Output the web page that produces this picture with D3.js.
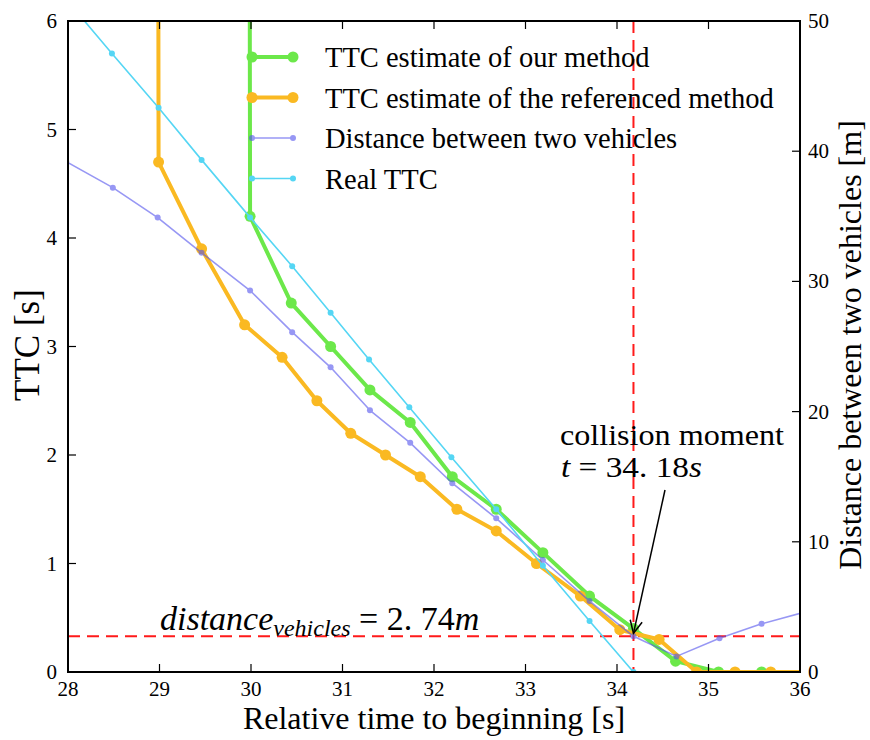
<!DOCTYPE html>
<html>
<head>
<meta charset="utf-8">
<script src="https://cdn.jsdelivr.net/npm/d3@7"></script>
<style>
  body { margin: 0; background: #fff; }
  text { font-family: "Liberation Serif", "DejaVu Serif", serif; fill: #000; }
</style>
</head>
<body>
<div id="chart"></div>
<script>
// ---- data ----
// TTC estimate of our method (left axis, s); first value is off-scale
const oursTime = [29.46, 29.99, 30.44, 30.87, 31.30, 31.74, 32.20, 32.68, 33.19, 33.70, 34.18, 34.64, 35.11, 35.58, 36.05];
const oursTTC  = [300, 4.2, 3.4, 3.0, 2.6, 2.3, 1.8, 1.5, 1.1, 0.7, 0.4, 0.1, 0, 0, 0];

// TTC estimate of the referenced method (left axis, s); first value is off-scale
const refTime = [28.49, 28.99, 29.46, 29.93, 30.34, 30.72, 31.09, 31.47, 31.85, 32.25, 32.68, 33.12, 33.60, 34.03, 34.46, 34.87, 35.29, 35.68, 36.05];
const refTTC  = [300, 4.7, 3.9, 3.2, 2.9, 2.5, 2.2, 2.0, 1.8, 1.5, 1.3, 1.0, 0.7, 0.39, 0.3, 0, 0, 0, 0];

// Distance between two vehicles (right axis, m)
const distTime = [27.98, 28.49, 28.98, 29.46, 29.99, 30.45, 30.87, 31.30, 31.74, 32.20, 32.68, 33.19, 33.70, 34.18, 34.65, 35.12, 35.58, 36.05];
const distVal  = [39.2, 37.2, 34.9, 32.2, 29.3, 26.1, 23.4, 20.1, 17.6, 14.5, 11.8, 8.6, 5.45, 2.74, 1.2, 2.6, 3.7, 4.6];

// Real TTC (left axis, s)
const realTime = [27.98, 28.48, 28.99, 29.46, 29.99, 30.45, 30.87, 31.29, 31.73, 32.19, 32.68, 33.19, 33.70, 34.18];
const realTTC  = [6.2, 5.7, 5.2, 4.72, 4.19, 3.74, 3.31, 2.88, 2.44, 1.98, 1.50, 0.98, 0.47, 0];

const xTicks = [28, 29, 30, 31, 32, 33, 34, 35, 36];
const yLeftTicks = [0, 1, 2, 3, 4, 5, 6];
const yRightTicks = [0, 10, 20, 30, 40, 50];

const collisionTime = 34.18;
const collisionDist = 2.74;

const legendLabels = [
  "TTC estimate of our method",
  "TTC estimate of the referenced method",
  "Distance between two vehicles",
  "Real TTC"
];

// ---- layout ----
const W = 870, H = 740;
const plot = { left: 68, right: 800, top: 21, bottom: 672 };

const x = d3.scaleLinear().domain([28, 36]).range([plot.left, plot.right]);
const yL = d3.scaleLinear().domain([0, 6]).range([plot.bottom, plot.top]);
const yR = d3.scaleLinear().domain([0, 50]).range([plot.bottom, plot.top]);

const svg = d3.select("#chart").append("svg")
  .attr("width", W).attr("height", H);

svg.append("defs").append("clipPath").attr("id", "clip")
  .append("rect")
  .attr("x", plot.left).attr("y", plot.top)
  .attr("width", plot.right - plot.left).attr("height", plot.bottom - plot.top);

// series styles
const series = [
  { label: legendLabels[0], t: oursTime, v: oursTTC, y: yL, color: "#6ce84a", lw: 4, r: 5.5, op: 1 },
  { label: legendLabels[1], t: refTime, v: refTTC, y: yL, color: "#fab922", lw: 4, r: 5.5, op: 1 },
  { label: legendLabels[2], t: distTime, v: distVal, y: yR, color: "#5353ee", lw: 1.6, r: 3, op: 0.6 },
  { label: legendLabels[3], t: realTime, v: realTTC, y: yL, color: "#55d6f4", lw: 1.6, r: 3, op: 1 }
];

// red dashed reference lines
const refLines = svg.append("g").attr("clip-path", "url(#clip)");
refLines.append("line")
  .attr("x1", x(collisionTime)).attr("x2", x(collisionTime))
  .attr("y1", plot.top).attr("y2", plot.bottom)
  .attr("stroke", "#ff1a1a").attr("stroke-width", 2).attr("stroke-dasharray", "12,7");
refLines.append("line")
  .attr("x1", plot.left).attr("x2", plot.right)
  .attr("y1", yR(collisionDist)).attr("y2", yR(collisionDist))
  .attr("stroke", "#ff1a1a").attr("stroke-width", 2).attr("stroke-dasharray", "12,7");

// lines + markers
const marks = svg.append("g").attr("clip-path", "url(#clip)");
series.forEach(s => {
  const pts = s.t.map((t, i) => [t, s.v[i]]);
  const line = d3.line().x(d => x(d[0])).y(d => s.y(d[1]));
  const g = marks.append("g").attr("opacity", s.op);
  g.append("path")
    .attr("d", line(pts))
    .attr("fill", "none")
    .attr("stroke", s.color)
    .attr("stroke-width", s.lw)
    .attr("stroke-linejoin", "round");
  g.selectAll("circle").data(pts).enter().append("circle")
    .attr("cx", d => x(d[0]))
    .attr("cy", d => s.y(d[1]))
    .attr("r", s.r)
    .attr("fill", s.color);
});

// frame
svg.append("rect")
  .attr("x", plot.left).attr("y", plot.top)
  .attr("width", plot.right - plot.left).attr("height", plot.bottom - plot.top)
  .attr("fill", "none").attr("stroke", "#000").attr("stroke-width", 2);

// ticks (inward, matplotlib classic)
const tickLen = 8;
const axes = svg.append("g").attr("stroke", "#000").attr("stroke-width", 1.2);
xTicks.forEach(t => {
  axes.append("line").attr("x1", x(t)).attr("x2", x(t)).attr("y1", plot.bottom).attr("y2", plot.bottom - tickLen);
  axes.append("line").attr("x1", x(t)).attr("x2", x(t)).attr("y1", plot.top).attr("y2", plot.top + tickLen);
});
yLeftTicks.forEach(v => {
  axes.append("line").attr("x1", plot.left).attr("x2", plot.left + tickLen).attr("y1", yL(v)).attr("y2", yL(v));
});
yRightTicks.forEach(v => {
  axes.append("line").attr("x1", plot.right).attr("x2", plot.right - tickLen).attr("y1", yR(v)).attr("y2", yR(v));
});

// tick labels
const tickFont = 21;
svg.append("g").selectAll("text").data(xTicks).enter().append("text")
  .attr("x", d => x(d)).attr("y", plot.bottom + 24)
  .attr("text-anchor", "middle").style("font-size", tickFont + "px")
  .text(d => d);
svg.append("g").selectAll("text").data(yLeftTicks).enter().append("text")
  .attr("x", plot.left - 11).attr("y", d => yL(d) + 7)
  .attr("text-anchor", "end").style("font-size", tickFont + "px")
  .text(d => d);
svg.append("g").selectAll("text").data(yRightTicks).enter().append("text")
  .attr("x", plot.right + 8).attr("y", d => yR(d) + 7)
  .attr("text-anchor", "start").style("font-size", tickFont + "px")
  .text(d => d);

// axis titles
svg.append("text")
  .attr("x", (plot.left + plot.right) / 2).attr("y", 729)
  .attr("text-anchor", "middle").style("font-size", "32px")
  .text("Relative time to beginning [s]");
svg.append("text")
  .attr("transform", "translate(39,345) rotate(-90)")
  .attr("text-anchor", "middle").style("font-size", "35px")
  .text("TTC [s]");
svg.append("text")
  .attr("transform", "translate(861,345) rotate(-90)")
  .attr("text-anchor", "middle").style("font-size", "32px")
  .text("Distance between two vehicles [m]");

// legend
const leg = svg.append("g");
series.forEach((s, i) => {
  const ly = 57 + i * 40.5;
  const gg = leg.append("g").attr("opacity", s.op);
  gg.append("line").attr("x1", 252).attr("x2", 293).attr("y1", ly).attr("y2", ly)
    .attr("stroke", s.color).attr("stroke-width", s.lw);
  [252, 293].forEach(cx => gg.append("circle").attr("cx", cx).attr("cy", ly).attr("r", s.r).attr("fill", s.color));
  leg.append("text").attr("x", 325).attr("y", ly + 10)
    .style("font-size", "28.5px").text(s.label);
});

// annotations
svg.append("text").attr("x", 560).attr("y", 445).style("font-size", "28.5px")
  .attr("textLength", 224).attr("lengthAdjust", "spacingAndGlyphs")
  .text("collision moment");
const ann2 = svg.append("text").attr("x", 561).attr("y", 477).style("font-size", "28.5px")
  .attr("textLength", 141).attr("lengthAdjust", "spacingAndGlyphs");
ann2.append("tspan").style("font-style", "italic").text("t");
ann2.append("tspan").text(" = 34. 18");
ann2.append("tspan").style("font-style", "italic").text("s");

const ann3 = svg.append("text").attr("x", 160).attr("y", 630).style("font-size", "34px");
ann3.append("tspan").style("font-style", "italic").text("distance");
ann3.append("tspan").style("font-style", "italic").style("font-size", "24px").attr("dy", 6).text("vehicles");
ann3.append("tspan").attr("dy", -6).text(" = 2. 74");
ann3.append("tspan").style("font-style", "italic").text("m");

// arrow
const ax0 = 665, ay0 = 490, ax1 = x(collisionTime), ay1 = yR(collisionDist) - 3;
svg.append("line").attr("x1", ax0).attr("y1", ay0).attr("x2", ax1).attr("y2", ay1)
  .attr("stroke", "#000").attr("stroke-width", 1.5);
const ang = Math.atan2(ay1 - ay0, ax1 - ax0);
const hl = 14, ha = 0.45;
svg.append("path")
  .attr("d", `M${ax1 - hl * Math.cos(ang - ha)},${ay1 - hl * Math.sin(ang - ha)} L${ax1},${ay1} L${ax1 - hl * Math.cos(ang + ha)},${ay1 - hl * Math.sin(ang + ha)}`)
  .attr("fill", "none").attr("stroke", "#000").attr("stroke-width", 1.5);
</script>
</body>
</html>
